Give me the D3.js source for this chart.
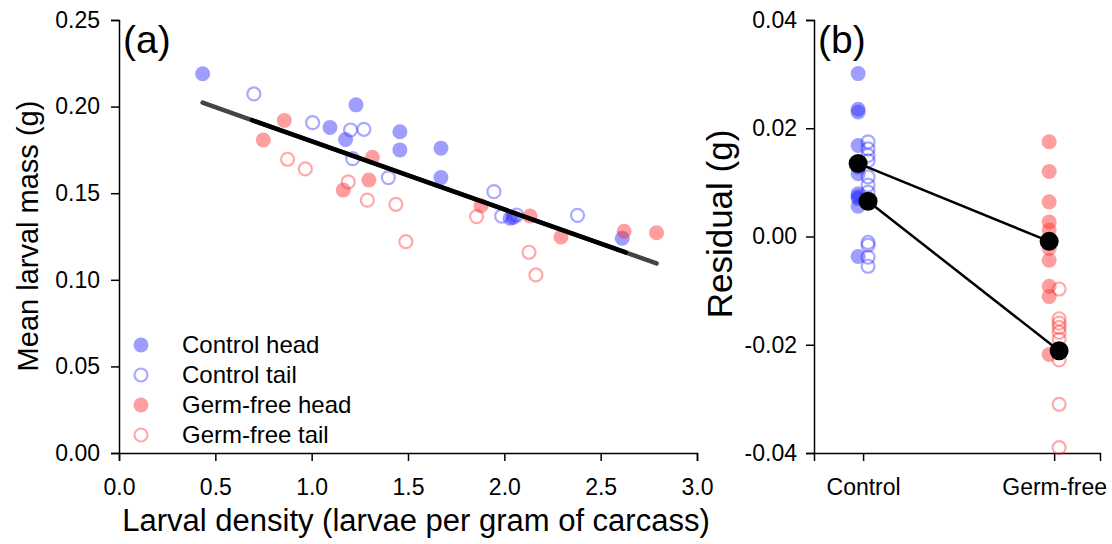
<!DOCTYPE html>
<html>
<head>
<meta charset="utf-8">
<script src="https://cdn.jsdelivr.net/npm/d3@7"></script>
<style>
  body { margin: 0; background: #fff; }
  text { font-family: "Liberation Sans", Arial, sans-serif; fill: #000; }
  .axis path, .axis line { stroke: #000; stroke-width: 1.5; }
  .axis text { font-size: 23px; font-family: "Liberation Sans", Arial, sans-serif; }
</style>
</head>
<body>
<div id="chart"></div>
<script>
// ---- panel (a): density vs mean larval mass ----
var ctrlHeadX = [0.434, 1.23, 1.095, 1.176, 1.458, 1.458, 1.671, 1.671, 2.03, 2.046, 2.612];
var ctrlHeadY = [0.219, 0.201, 0.188, 0.181, 0.1855, 0.175, 0.176, 0.159, 0.1355, 0.136, 0.124];
var ctrlTailX = [0.70, 1.005, 1.202, 1.271, 1.213, 1.398, 1.946, 1.986, 2.064, 2.38];
var ctrlTailY = [0.2073, 0.1907, 0.1865, 0.1869, 0.170, 0.159, 0.1509, 0.1368, 0.1374, 0.1372];
var gfHeadX = [0.858, 0.749, 1.315, 1.297, 1.164, 1.879, 2.133, 2.294, 2.622, 2.79];
var gfHeadY = [0.192, 0.1807, 0.1707, 0.1576, 0.1518, 0.1428, 0.1368, 0.1247, 0.128, 0.1272];
var gfTailX = [0.875, 0.967, 1.19, 1.289, 1.437, 1.489, 1.856, 2.128, 2.164];
var gfTailY = [0.1696, 0.164, 0.1565, 0.146, 0.1436, 0.122, 0.1365, 0.1159, 0.1028];
var fitIntercept = 0.2194;
var fitSlope = -0.0394;
var xTicksA = [0, 0.5, 1, 1.5, 2, 2.5, 3];
var yTicksA = [0, 0.05, 0.1, 0.15, 0.2, 0.25];

// ---- panel (b): residuals by treatment ----
var groups = ["Control", "Germ-free"];
var ctrlHeadRes = [0.0301, 0.0235, 0.023, 0.0168, 0.0128, 0.0116, 0.0079, 0.0074, 0.007, 0.0056, -0.0037];
var ctrlTailRes = [0.0175, 0.0162, 0.015, 0.014, 0.011, 0.0095, 0.0082, -0.0011, -0.0016, -0.0038, -0.0055];
var gfHeadRes = [0.0175, 0.012, 0.0064, 0.0027, 0.0012, -0.0022, -0.0044, -0.0092, -0.0111, -0.0218];
var gfTailRes = [-0.0097, -0.0152, -0.016, -0.0168, -0.0177, -0.019, -0.0214, -0.0228, -0.031, -0.039];
var headMeans = [0.0135, -0.0009];
var tailMeans = [0.0065, -0.0211];
var yTicksB = [-0.04, -0.02, 0, 0.02, 0.04];

var width = 1112, height = 544;
var blueFill = "rgba(40,40,255,0.45)", blueLine = "rgba(40,40,255,0.4)";
var redFill = "rgba(255,40,40,0.45)", redLine = "rgba(255,40,40,0.4)";

// plain hyphen for negatives, like the original figure
var fmt2 = function(d) { return d3.format(".2f")(d).replace("\u2212", "-"); };

var svg = d3.select("#chart").append("svg")
  .attr("width", width)
  .attr("height", height);

// scales for panel a
var xA = d3.scaleLinear().domain([0, 3]).range([119, 697]);
var yA = d3.scaleLinear().domain([0, 0.25]).range([453, 20]);

svg.append("g")
  .attr("class", "axis")
  .attr("transform", "translate(0,453)")
  .call(d3.axisBottom(xA).tickValues(xTicksA).tickFormat(d3.format(".1f")).tickSizeOuter(0).tickSize(8).tickPadding(18));

svg.append("g")
  .attr("class", "axis")
  .attr("transform", "translate(119,0)")
  .call(d3.axisLeft(yA).tickValues(yTicksA).tickFormat(fmt2).tickSizeOuter(0).tickSize(8).tickPadding(11));

function zip(xs, ys) {
  return xs.map(function(x, i) { return { x: x, y: ys[i] }; });
}

// regression line (grey ends, black middle)
var xMin = d3.min([ctrlHeadX, ctrlTailX, gfHeadX, gfTailX].flat());
var xMax = d3.max([ctrlHeadX, ctrlTailX, gfHeadX, gfTailX].flat());
function fitLine(x0, x1, colour) {
  svg.append("line")
    .attr("x1", xA(x0)).attr("y1", yA(fitIntercept + fitSlope * x0))
    .attr("x2", xA(x1)).attr("y2", yA(fitIntercept + fitSlope * x1))
    .attr("stroke", colour)
    .attr("stroke-width", 4.5)
    .attr("stroke-linecap", "round");
}

function drawPoints(data, sx, sy, filled, fill, line) {
  svg.append("g")
    .selectAll("circle")
    .data(data)
    .enter()
    .append("circle")
    .attr("cx", function(d) { return sx(d.x); })
    .attr("cy", function(d) { return sy(d.y); })
    .attr("r", filled ? 7.5 : 6.5)
    .attr("fill", filled ? fill : "none")
    .attr("stroke", filled ? "none" : line)
    .attr("stroke-width", 2.2);
}

drawPoints(zip(ctrlHeadX, ctrlHeadY), xA, yA, true, blueFill, blueLine);
drawPoints(zip(ctrlTailX, ctrlTailY), xA, yA, false, blueFill, blueLine);
drawPoints(zip(gfHeadX, gfHeadY), xA, yA, true, redFill, redLine);
drawPoints(zip(gfTailX, gfTailY), xA, yA, false, redFill, redLine);

fitLine(xMin, xMax, "#444");
fitLine(0.69, 2.63, "#000");

// legend
var legend = [
  { label: "Control head", filled: true, fill: blueFill, line: blueLine },
  { label: "Control tail", filled: false, fill: blueFill, line: blueLine },
  { label: "Germ-free head", filled: true, fill: redFill, line: redLine },
  { label: "Germ-free tail", filled: false, fill: redFill, line: redLine }
];
var leg = svg.append("g").attr("transform", "translate(141,345)");
legend.forEach(function(d, i) {
  leg.append("circle")
    .attr("cx", 0).attr("cy", i * 30)
    .attr("r", d.filled ? 7.5 : 6.5)
    .attr("fill", d.filled ? d.fill : "none")
    .attr("stroke", d.filled ? "none" : d.line)
    .attr("stroke-width", 2.2);
  leg.append("text")
    .attr("x", 41).attr("y", i * 30 + 8)
    .attr("font-size", 24)
    .text(d.label);
});

svg.append("text")
  .attr("x", 123).attr("y", 53)
  .attr("font-size", 39)
  .text("(a)");

svg.append("text")
  .attr("x", 416).attr("y", 531)
  .attr("text-anchor", "middle")
  .attr("font-size", 31)
  .text("Larval density (larvae per gram of carcass)");

svg.append("text")
  .attr("transform", "translate(38,236) rotate(-90)")
  .attr("text-anchor", "middle")
  .attr("font-size", 29)
  .text("Mean larval mass (g)");

// scales for panel b
var xB = d3.scaleLinear().domain([0.743, 2.24]).range([814, 1100]);
var yB = d3.scaleLinear().domain([-0.04, 0.04]).range([453, 20]);
var offset = 0.026;

svg.append("g")
  .attr("class", "axis")
  .attr("transform", "translate(0,453)")
  .call(d3.axisBottom(xB).tickValues([1, 2]).tickFormat(function(d) { return groups[d - 1]; }).tickSizeOuter(0).tickSize(8).tickPadding(18));

svg.append("g")
  .attr("class", "axis")
  .attr("transform", "translate(814,0)")
  .call(d3.axisLeft(yB).tickValues(yTicksB).tickFormat(fmt2).tickSizeOuter(0).tickSize(8).tickPadding(9));

function column(vals, g) {
  return vals.map(function(v) { return { x: g, y: v }; });
}
drawPoints(column(ctrlHeadRes, 1 - offset), xB, yB, true, blueFill, blueLine);
drawPoints(column(ctrlTailRes, 1 + offset), xB, yB, false, blueFill, blueLine);
drawPoints(column(gfHeadRes, 2 - offset), xB, yB, true, redFill, redLine);
drawPoints(column(gfTailRes, 2 + offset), xB, yB, false, redFill, redLine);

// mean lines and points
var meanSets = [
  [{ x: 1 - offset, y: headMeans[0] }, { x: 2 - offset, y: headMeans[1] }],
  [{ x: 1 + offset, y: tailMeans[0] }, { x: 2 + offset, y: tailMeans[1] }]
];
var lineB = d3.line().x(function(d) { return xB(d.x); }).y(function(d) { return yB(d.y); });
meanSets.forEach(function(set) {
  svg.append("path")
    .attr("d", lineB(set))
    .attr("fill", "none")
    .attr("stroke", "#000")
    .attr("stroke-width", 2.5);
});
meanSets.forEach(function(set) {
  svg.append("g")
    .selectAll("circle")
    .data(set)
    .enter()
    .append("circle")
    .attr("cx", function(d) { return xB(d.x); })
    .attr("cy", function(d) { return yB(d.y); })
    .attr("r", 9.5)
    .attr("fill", "#000");
});

svg.append("text")
  .attr("x", 818).attr("y", 53)
  .attr("font-size", 39)
  .text("(b)");

svg.append("text")
  .attr("transform", "translate(732,224) rotate(-90)")
  .attr("text-anchor", "middle")
  .attr("font-size", 35)
  .text("Residual (g)");
</script>
</body>
</html>
